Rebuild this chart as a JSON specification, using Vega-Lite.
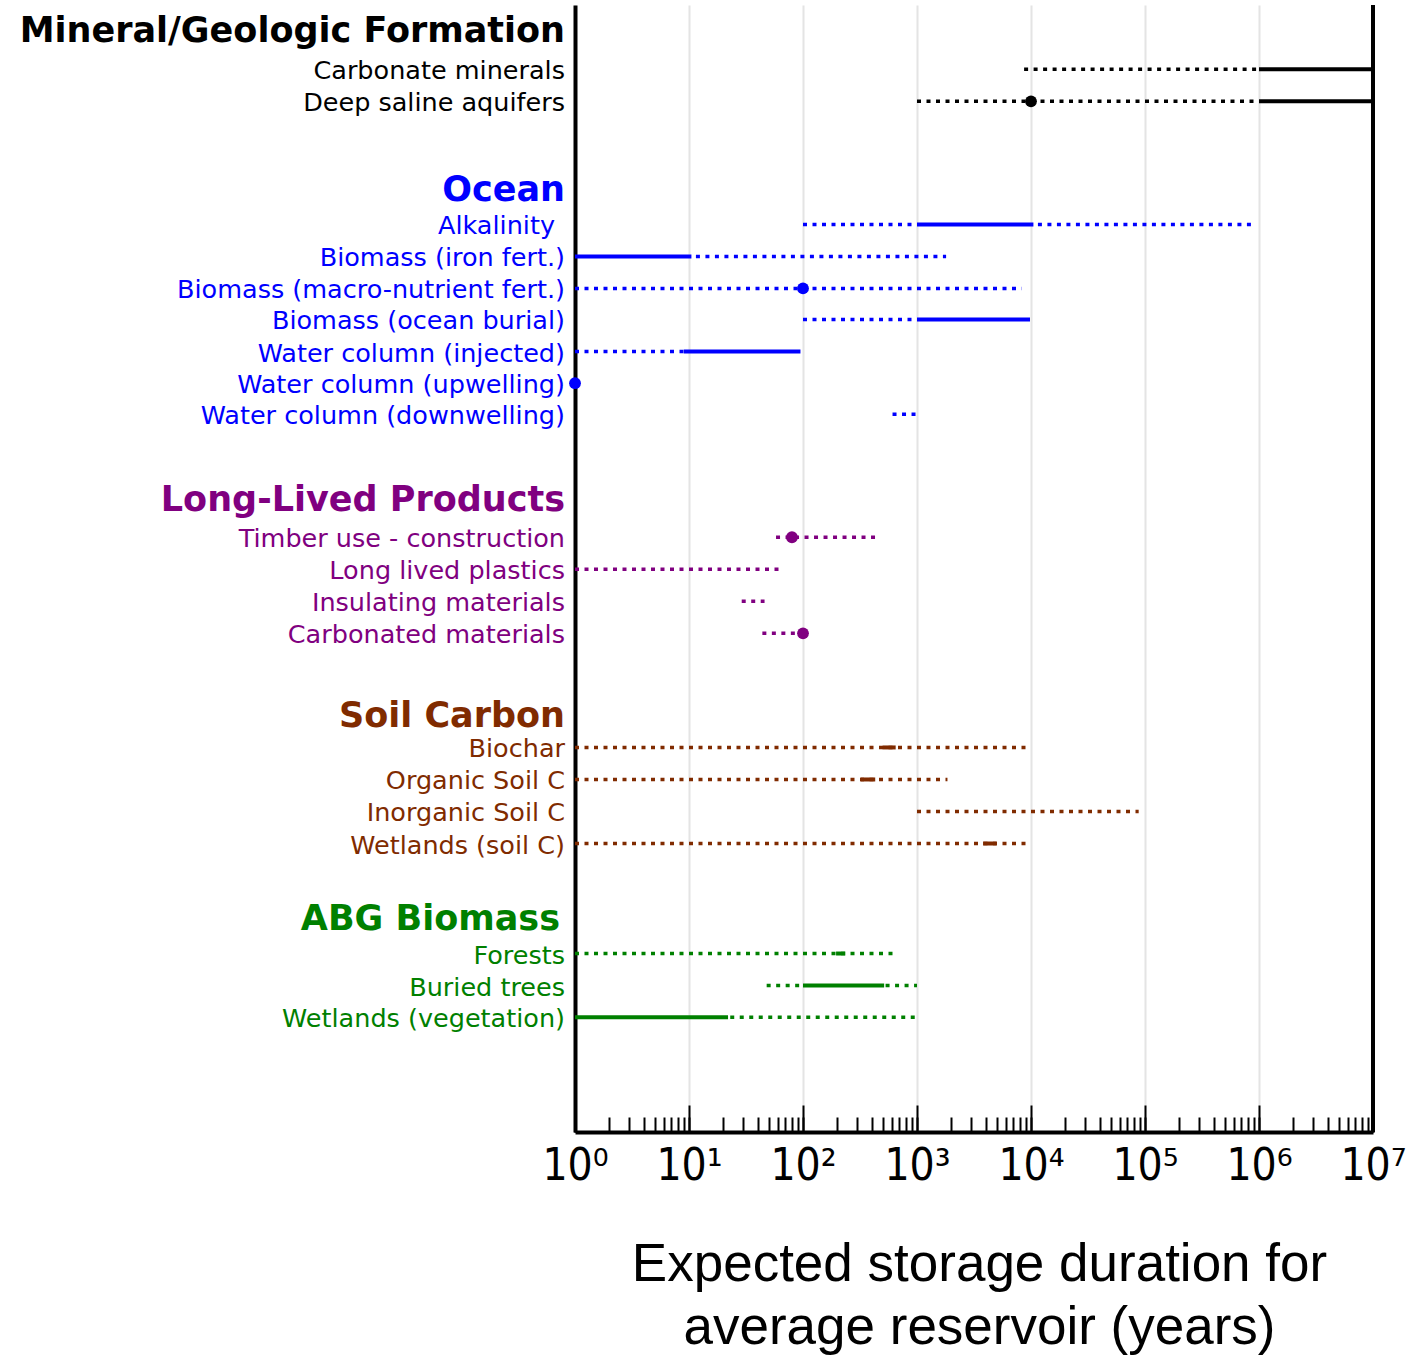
{
  "$schema": "https://vega.github.io/schema/vega-lite/v6.json",
  "width": 798,
  "height": 1127,
  "autosize": {"type": "none"},
  "padding": {"left": 575, "top": 5, "right": 48, "bottom": 224},
  "background": "white",
  "config": {"view": {"stroke": null}},
  "datasets": {
    "labels": [
      {"label": "Mineral/Geologic Formation", "group": "Mineral", "slot": -1.26, "header": true},
      {"label": "Carbonate minerals", "group": "Mineral", "slot": 0, "header": false},
      {"label": "Deep saline aquifers", "group": "Mineral", "slot": 1.01, "header": false},
      {"label": "Ocean", "group": "Ocean", "slot": 3.75, "header": true},
      {"label": "Alkalinity", "group": "Ocean", "slot": 4.89, "header": false},
      {"label": "Biomass (iron fert.)", "group": "Ocean", "slot": 5.9, "header": false},
      {"label": "Biomass (macro-nutrient fert.)", "group": "Ocean", "slot": 6.91, "header": false},
      {"label": "Biomass (ocean burial)", "group": "Ocean", "slot": 7.89, "header": false},
      {"label": "Water column (injected)", "group": "Ocean", "slot": 8.9, "header": false},
      {"label": "Water column (upwelling)", "group": "Ocean", "slot": 9.9, "header": false},
      {"label": "Water column (downwelling)", "group": "Ocean", "slot": 10.88, "header": false},
      {"label": "Long-Lived Products", "group": "Products", "slot": 13.53, "header": true},
      {"label": "Timber use - construction", "group": "Products", "slot": 14.76, "header": false},
      {"label": "Long lived plastics", "group": "Products", "slot": 15.77, "header": false},
      {"label": "Insulating materials", "group": "Products", "slot": 16.78, "header": false},
      {"label": "Carbonated materials", "group": "Products", "slot": 17.79, "header": false},
      {"label": "Soil Carbon", "group": "Soil", "slot": 20.32, "header": true},
      {"label": "Biochar", "group": "Soil", "slot": 21.39, "header": false},
      {"label": "Organic Soil C", "group": "Soil", "slot": 22.4, "header": false},
      {"label": "Inorganic Soil C", "group": "Soil", "slot": 23.41, "header": false},
      {"label": "Wetlands (soil C)", "group": "Soil", "slot": 24.42, "header": false},
      {"label": "ABG Biomass", "group": "ABG", "slot": 26.75, "header": true},
      {"label": "Forests", "group": "ABG", "slot": 27.89, "header": false},
      {"label": "Buried trees", "group": "ABG", "slot": 28.9, "header": false},
      {"label": "Wetlands (vegetation)", "group": "ABG", "slot": 29.9, "header": false}
    ],
    "segments": [
      {"label": "Carbonate minerals", "group": "Mineral", "lo": 8700, "hi": 1000000, "kind": "possible"},
      {"label": "Carbonate minerals", "group": "Mineral", "lo": 1000000, "hi": 10000000, "kind": "likely"},
      {"label": "Deep saline aquifers", "group": "Mineral", "lo": 1000, "hi": 1000000, "kind": "possible"},
      {"label": "Deep saline aquifers", "group": "Mineral", "lo": 1000000, "hi": 10000000, "kind": "likely"},
      {"label": "Alkalinity", "group": "Ocean", "lo": 100, "hi": 1000, "kind": "possible"},
      {"label": "Alkalinity", "group": "Ocean", "lo": 1000, "hi": 10500, "kind": "likely"},
      {"label": "Alkalinity", "group": "Ocean", "lo": 11500, "hi": 870000, "kind": "possible"},
      {"label": "Biomass (iron fert.)", "group": "Ocean", "lo": 1, "hi": 10.5, "kind": "likely"},
      {"label": "Biomass (iron fert.)", "group": "Ocean", "lo": 11.5, "hi": 1800, "kind": "possible"},
      {"label": "Biomass (macro-nutrient fert.)", "group": "Ocean", "lo": 1, "hi": 8300, "kind": "possible"},
      {"label": "Biomass (ocean burial)", "group": "Ocean", "lo": 100, "hi": 1000, "kind": "possible"},
      {"label": "Biomass (ocean burial)", "group": "Ocean", "lo": 1000, "hi": 9800, "kind": "likely"},
      {"label": "Water column (injected)", "group": "Ocean", "lo": 1, "hi": 9, "kind": "possible"},
      {"label": "Water column (injected)", "group": "Ocean", "lo": 9, "hi": 95, "kind": "likely"},
      {"label": "Water column (downwelling)", "group": "Ocean", "lo": 610, "hi": 1000, "kind": "possible"},
      {"label": "Timber use - construction", "group": "Products", "lo": 58, "hi": 440, "kind": "possible"},
      {"label": "Long lived plastics", "group": "Products", "lo": 1, "hi": 63, "kind": "possible"},
      {"label": "Insulating materials", "group": "Products", "lo": 29, "hi": 46, "kind": "possible"},
      {"label": "Carbonated materials", "group": "Products", "lo": 44, "hi": 100, "kind": "possible"},
      {"label": "Biochar", "group": "Soil", "lo": 1, "hi": 10000, "kind": "possible"},
      {"label": "Biochar", "group": "Soil", "lo": 500, "hi": 650, "kind": "likely"},
      {"label": "Organic Soil C", "group": "Soil", "lo": 1, "hi": 1850, "kind": "possible"},
      {"label": "Organic Soil C", "group": "Soil", "lo": 320, "hi": 430, "kind": "likely"},
      {"label": "Inorganic Soil C", "group": "Soil", "lo": 1000, "hi": 88000, "kind": "possible"},
      {"label": "Wetlands (soil C)", "group": "Soil", "lo": 1, "hi": 10000, "kind": "possible"},
      {"label": "Wetlands (soil C)", "group": "Soil", "lo": 3800, "hi": 5000, "kind": "likely"},
      {"label": "Forests", "group": "ABG", "lo": 1, "hi": 680, "kind": "possible"},
      {"label": "Forests", "group": "ABG", "lo": 195, "hi": 235, "kind": "likely"},
      {"label": "Buried trees", "group": "ABG", "lo": 48, "hi": 100, "kind": "possible"},
      {"label": "Buried trees", "group": "ABG", "lo": 100, "hi": 515, "kind": "likely"},
      {"label": "Buried trees", "group": "ABG", "lo": 530, "hi": 1000, "kind": "possible"},
      {"label": "Wetlands (vegetation)", "group": "ABG", "lo": 1, "hi": 22, "kind": "likely"},
      {"label": "Wetlands (vegetation)", "group": "ABG", "lo": 23, "hi": 1000, "kind": "possible"}
    ],
    "points": [
      {"label": "Deep saline aquifers", "group": "Mineral", "value": 10000},
      {"label": "Biomass (macro-nutrient fert.)", "group": "Ocean", "value": 100},
      {"label": "Water column (upwelling)", "group": "Ocean", "value": 1},
      {"label": "Timber use - construction", "group": "Products", "value": 80},
      {"label": "Carbonated materials", "group": "Products", "value": 100}
    ],
    "edge": [{"limit": 10000000}]
  },
  "resolve": {"axis": {"x": "independent"}},
  "layer": [
    {
      "data": {"name": "segments"},
      "transform": [
        {"filter": "datum.kind === 'possible'"},
        {"lookup": "label", "from": {"data": {"name": "labels"}, "key": "label", "fields": ["slot"]}}
      ],
      "mark": {"type": "rule", "strokeWidth": 3.5, "strokeDash": [4, 5.5], "strokeCap": "butt"},
      "encoding": {
        "x": {
          "field": "lo", "type": "quantitative",
          "scale": {"type": "log", "domain": [1, 10000000], "nice": false},
          "axis": {
            "orient": "bottom",
            "values": [1, 10, 100, 1000, 10000, 100000, 1000000, 10000000],
            "grid": true, "gridColor": "#e4e4e4", "gridWidth": 2,
            "ticks": true, "tickSize": -27, "tickWidth": 2, "tickColor": "black",
            "domain": true, "domainColor": "black", "domainWidth": 4,
            "labelExpr": "'10' + ['\u2070','\u00b9','\u00b2','\u00b3','\u2074','\u2075','\u2076','\u2077'][round(log(datum.value)/LN10)]",
            "labelFont": "DejaVu Sans Condensed, DejaVu Sans", "labelFontSize": 44, "labelColor": "black",
            "labelPadding": 39, "labelFlush": false, "labelOverlap": false, "labelBound": false,
            "title": ["Expected storage duration for", "average reservoir (years)"],
            "titleFont": "Liberation Sans", "titleFontSize": 53, "titleFontWeight": "normal",
            "titleColor": "black", "titleLineHeight": 63, "titlePadding": 50, "titleX": 404, "titleAlign": "center"
          }
        },
        "x2": {"field": "hi"},
        "y": {
          "field": "slot", "type": "quantitative",
          "scale": {"domain": [-2.03, 33.52], "reverse": true, "zero": false, "nice": false},
          "axis": {"labels": false, "ticks": false, "grid": false, "title": null, "domain": true, "domainColor": "black", "domainWidth": 4}
        },
        "color": {
          "field": "group", "type": "nominal",
          "scale": {"domain": ["Mineral", "Ocean", "Products", "Soil", "ABG"], "range": ["#000000", "#0000ff", "#800080", "#802b00", "#008000"]},
          "legend": null
        }
      }
    },
    {
      "data": {"name": "segments"},
      "transform": [
        {"filter": "datum.kind === 'likely'"},
        {"lookup": "label", "from": {"data": {"name": "labels"}, "key": "label", "fields": ["slot"]}}
      ],
      "mark": {"type": "rule", "strokeWidth": 4, "strokeCap": "butt"},
      "encoding": {
        "x": {
          "field": "lo", "type": "quantitative",
          "axis": {
            "orient": "bottom", "tickCount": 60, "grid": false, "labels": false, "domain": false,
            "ticks": true, "tickSize": -15, "tickWidth": 2, "tickColor": "black", "title": null
          }
        },
        "x2": {"field": "hi"},
        "y": {
          "field": "slot", "type": "quantitative",
          "axis": {"labels": false, "ticks": false, "grid": false, "title": null, "domain": true, "domainColor": "black", "domainWidth": 4}
        },
        "color": {"field": "group", "type": "nominal", "legend": null}
      }
    },
    {
      "data": {"name": "points"},
      "transform": [
        {"lookup": "label", "from": {"data": {"name": "labels"}, "key": "label", "fields": ["slot"]}}
      ],
      "mark": {"type": "circle", "size": 140, "opacity": 1},
      "encoding": {
        "x": {"field": "value", "type": "quantitative", "axis": null},
        "y": {
          "field": "slot", "type": "quantitative",
          "axis": {"labels": false, "ticks": false, "grid": false, "title": null, "domain": true, "domainColor": "black", "domainWidth": 4}
        },
        "color": {"field": "group", "type": "nominal", "legend": null}
      }
    },
    {
      "data": {"name": "edge"},
      "mark": {"type": "rule", "strokeWidth": 4, "color": "black"},
      "encoding": {
        "x": {"field": "limit", "type": "quantitative", "axis": null}
      }
    },
    {
      "data": {"name": "labels"},
      "transform": [{"filter": "!datum.header && datum.label !== 'Alkalinity'"}],
      "mark": {"type": "text", "align": "right", "baseline": "middle", "dx": -10, "dy": 2, "font": "DejaVu Sans", "fontSize": 25.5},
      "encoding": {
        "x": {"datum": 1, "type": "quantitative", "axis": null},
        "y": {
          "field": "slot", "type": "quantitative",
          "axis": {"labels": false, "ticks": false, "grid": false, "title": null, "domain": true, "domainColor": "black", "domainWidth": 4}
        },
        "text": {"field": "label"},
        "color": {"field": "group", "type": "nominal", "legend": null}
      }
    },
    {
      "data": {"name": "labels"},
      "transform": [{"filter": "datum.label === 'Alkalinity'"}],
      "mark": {"type": "text", "align": "right", "baseline": "middle", "dx": -20, "dy": 2, "font": "DejaVu Sans", "fontSize": 25.5},
      "encoding": {
        "x": {"datum": 1, "type": "quantitative", "axis": null},
        "y": {
          "field": "slot", "type": "quantitative",
          "axis": {"labels": false, "ticks": false, "grid": false, "title": null, "domain": true, "domainColor": "black", "domainWidth": 4}
        },
        "text": {"field": "label"},
        "color": {"field": "group", "type": "nominal", "legend": null}
      }
    },
    {
      "data": {"name": "labels"},
      "transform": [{"filter": "datum.header && datum.label !== 'ABG Biomass'"}],
      "mark": {"type": "text", "align": "right", "baseline": "middle", "dx": -10, "dy": 2, "font": "DejaVu Sans", "fontSize": 35, "fontWeight": "bold"},
      "encoding": {
        "x": {"datum": 1, "type": "quantitative", "axis": null},
        "y": {
          "field": "slot", "type": "quantitative",
          "axis": {"labels": false, "ticks": false, "grid": false, "title": null, "domain": true, "domainColor": "black", "domainWidth": 4}
        },
        "text": {"field": "label"},
        "color": {"field": "group", "type": "nominal", "legend": null}
      }
    },
    {
      "data": {"name": "labels"},
      "transform": [{"filter": "datum.label === 'ABG Biomass'"}],
      "mark": {"type": "text", "align": "right", "baseline": "middle", "dx": -15, "dy": 2, "font": "DejaVu Sans", "fontSize": 35, "fontWeight": "bold"},
      "encoding": {
        "x": {"datum": 1, "type": "quantitative", "axis": null},
        "y": {
          "field": "slot", "type": "quantitative",
          "axis": {"labels": false, "ticks": false, "grid": false, "title": null, "domain": true, "domainColor": "black", "domainWidth": 4}
        },
        "text": {"field": "label"},
        "color": {"field": "group", "type": "nominal", "legend": null}
      }
    }
  ]
}
